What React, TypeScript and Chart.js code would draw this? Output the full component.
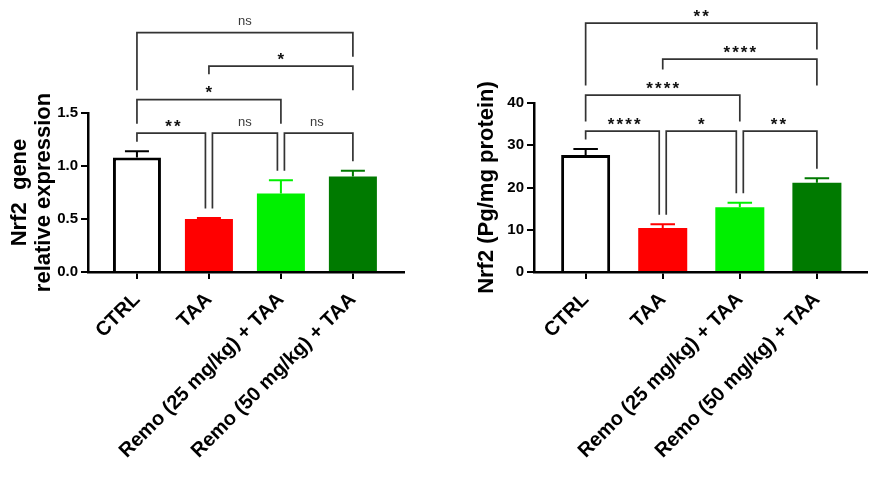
import { useEffect, useRef } from 'react';
import { Chart, registerables } from 'chart.js';

Chart.register(...registerables);

// groups on the x axis
const categories = ['CTRL', 'TAA', 'Remo (25 mg/kg) + TAA', 'Remo (50 mg/kg) + TAA'];

// left panel: Nrf2 gene relative expression (mean, SEM)
const geneValues = [1.08, 0.5, 0.74, 0.9];
const geneErrors = [0.06, 0.01, 0.125, 0.055];
const geneTicks = [0, 0.5, 1.0, 1.5];

// right panel: Nrf2 protein (Pg/mg protein)
const proteinValues = [27.7, 10.4, 15.3, 21.1];
const proteinErrors = [1.4, 0.9, 1.1, 1.1];
const proteinTicks = [0, 10, 20, 30, 40];

// pairwise comparisons (group indices) and their significance marks
const cmpPairs = [
  [0, 1],
  [1, 2],
  [2, 3],
  [0, 2],
  [1, 3],
  [0, 3],
];
const geneSig = ['**', 'ns', 'ns', '*', '*', 'ns'];
const proteinSig = ['****', '*', '**', '****', '****', '**'];

const barFills = ['#ffffff', '#ff0000', '#00f000', '#007a00'];
const errColors = ['#000000', '#ff0000', '#00f000', '#007a00'];
const barBorders = [3, 0, 0, 0];

const FONT = 'Liberation Sans, Arial, Helvetica, sans-serif';
const LINE = '#333333';
const GAP = 9.5;

function makeExtras(values: number[], errors: number[], sig: string[], rowStep: number) {
  return {
    id: 'extras',
    afterDatasetsDraw(chart: any) {
      const ctx = chart.ctx as CanvasRenderingContext2D;
      const ys = chart.scales.y;
      const bars = chart.getDatasetMeta(0).data;
      const tops = bars.map((_: any, i: number) => ys.getPixelForValue(values[i] + errors[i]));
      ctx.save();

      // error bars (upper only)
      bars.forEach((b: any, i: number) => {
        const half = b.width / 4;
        ctx.strokeStyle = errColors[i];
        ctx.lineWidth = 2;
        ctx.beginPath();
        ctx.moveTo(b.x, b.y);
        ctx.lineTo(b.x, tops[i]);
        ctx.moveTo(b.x - half, tops[i]);
        ctx.lineTo(b.x + half, tops[i]);
        ctx.stroke();
      });

      // stack the brackets into rows
      const rows: number[] = [];
      cmpPairs.forEach(([a, b], k) => {
        let r = 0;
        for (let j = 0; j < k; j++) {
          const [c, d] = cmpPairs[j];
          if (Math.max(a, c) < Math.min(b, d)) r = Math.max(r, rows[j] + 1);
        }
        rows.push(r);
      });
      const base = Math.min(...tops) - 18;
      const lineY = rows.map((r) => base - r * rowStep);
      const labelY = lineY.map((v) => v - 11);

      const legBottom = (k: number, idx: number) => {
        let top = tops[idx];
        cmpPairs.forEach(([c, d], j) => {
          if (rows[j] >= rows[k]) return;
          if (c <= idx && idx <= d) top = Math.min(top, lineY[j]);
          if ((c + d) / 2 === idx) top = Math.min(top, labelY[j] - 5);
        });
        let y = top - GAP;
        if (rows[k] >= 2) y = Math.min(y, base - rowStep - GAP);
        return y;
      };

      ctx.strokeStyle = LINE;
      ctx.lineWidth = 1.7;
      cmpPairs.forEach(([a, b], k) => {
        const shareL = cmpPairs.some(([, d], j) => j !== k && rows[j] === rows[k] && d === a);
        const shareR = cmpPairs.some(([c], j) => j !== k && rows[j] === rows[k] && c === b);
        const xl = bars[a].x + (shareL ? 3.5 : 0);
        const xr = bars[b].x - (shareR ? 3.5 : 0);
        ctx.beginPath();
        ctx.moveTo(xl, legBottom(k, a));
        ctx.lineTo(xl, lineY[k]);
        ctx.lineTo(xr, lineY[k]);
        ctx.lineTo(xr, legBottom(k, b));
        ctx.stroke();

        const cx = (bars[a].x + bars[b].x) / 2;
        const label = sig[k];
        ctx.textAlign = 'center';
        ctx.textBaseline = 'alphabetic';
        if (label === 'ns') {
          ctx.fillStyle = '#3a3a3a';
          ctx.font = `13px ${FONT}`;
          ctx.fillText(label, cx, labelY[k] + 3.5);
        } else {
          ctx.fillStyle = '#111111';
          ctx.font = `bold 17px ${FONT}`;
          const n = label.length;
          for (let i = 0; i < n; i++) {
            ctx.fillText(label[i], cx + (i - (n - 1) / 2) * 8.7, labelY[k] + 9.8);
          }
        }
      });
      ctx.restore();
    },
  };
}

type PanelProps = {
  values: number[];
  errors: number[];
  ticks: number[];
  decimals: number;
  sig: string[];
  title: string | string[];
  titlePad: number;
  left: number;
  right: number;
  top: number;
  bottom: number;
  xMin: number;
  xMax: number;
  barPct: number;
  rowStep: number;
};

function Panel(p: PanelProps) {
  const canvasRef = useRef<HTMLCanvasElement>(null);
  const chartRef = useRef<Chart | null>(null);

  useEffect(() => {
    if (!canvasRef.current) return;
    const axisGrid = {
      display: true,
      drawOnChartArea: false,
      drawTicks: true,
      tickLength: 7,
      color: '#000',
      lineWidth: 2,
      offset: false,
    };
    const axisBorder = { display: true, color: '#000', width: 2.5 };

    chartRef.current = new Chart(canvasRef.current, {
      type: 'bar',
      data: {
        datasets: [
          {
            data: p.values.map((v, i) => ({ x: i, y: v })),
            backgroundColor: barFills,
            borderColor: '#000',
            borderWidth: barBorders,
            categoryPercentage: 1,
            barPercentage: p.barPct,
          },
        ],
      },
      options: {
        animation: false,
        responsive: true,
        maintainAspectRatio: false,
        layout: { padding: { top: p.top, right: p.right, left: 0, bottom: 0 } },
        plugins: { legend: { display: false }, tooltip: { enabled: false } },
        scales: {
          x: {
            type: 'linear',
            min: p.xMin,
            max: p.xMax,
            offset: false,
            afterBuildTicks: (s: any) => {
              s.ticks = categories.map((_, i) => ({ value: i }));
            },
            afterFit: (s: any) => {
              s.height = p.bottom;
            },
            grid: axisGrid,
            border: axisBorder,
            ticks: {
              autoSkip: false,
              minRotation: 45,
              maxRotation: 45,
              padding: 9,
              color: '#000',
              font: { family: FONT, size: 20, weight: 'bold' },
              callback: (v: any) => categories[v],
            },
          },
          y: {
            min: 0,
            max: p.ticks[p.ticks.length - 1],
            afterBuildTicks: (s: any) => {
              s.ticks = p.ticks.map((v) => ({ value: v }));
            },
            afterFit: (s: any) => {
              s.width = p.left;
            },
            grid: axisGrid,
            border: axisBorder,
            ticks: {
              color: '#000',
              padding: 3,
              font: { family: FONT, size: 15, weight: 'bold' },
              callback: (v: any) => Number(v).toFixed(p.decimals),
            },
            title: {
              display: true,
              text: p.title,
              color: '#000',
              font: { family: FONT, size: 22, weight: 'bold', lineHeight: 1.1 },
              padding: { top: p.titlePad, bottom: 0 },
            },
          },
        },
      },
      plugins: [makeExtras(p.values, p.errors, p.sig, p.rowStep)],
    } as any);

    return () => {
      chartRef.current?.destroy();
    };
  }, []);

  return (
    <div style={{ position: 'relative', width: 436, height: 488 }}>
      <canvas ref={canvasRef} />
    </div>
  );
}

export default function App() {
  return (
    <div style={{ position: 'absolute', left: 0, top: 0, width: 872, height: 488, display: 'flex', background: '#fff' }}>
      <Panel
        values={geneValues}
        errors={geneErrors}
        ticks={geneTicks}
        decimals={1}
        sig={geneSig}
        title={['Nrf2  gene', 'relative expression']}
        titlePad={8}
        left={88}
        right={32}
        top={113}
        bottom={216}
        xMin={-0.68}
        xMax={3.71}
        barPct={0.667}
        rowStep={33.5}
      />
      <Panel
        values={proteinValues}
        errors={proteinErrors}
        ticks={proteinTicks}
        decimals={0}
        sig={proteinSig}
        title="Nrf2 (Pg/mg protein)"
        titlePad={39}
        left={98}
        right={5}
        top={103}
        bottom={216}
        xMin={-0.67}
        xMax={3.65}
        barPct={0.636}
        rowStep={36}
      />
    </div>
  );
}
